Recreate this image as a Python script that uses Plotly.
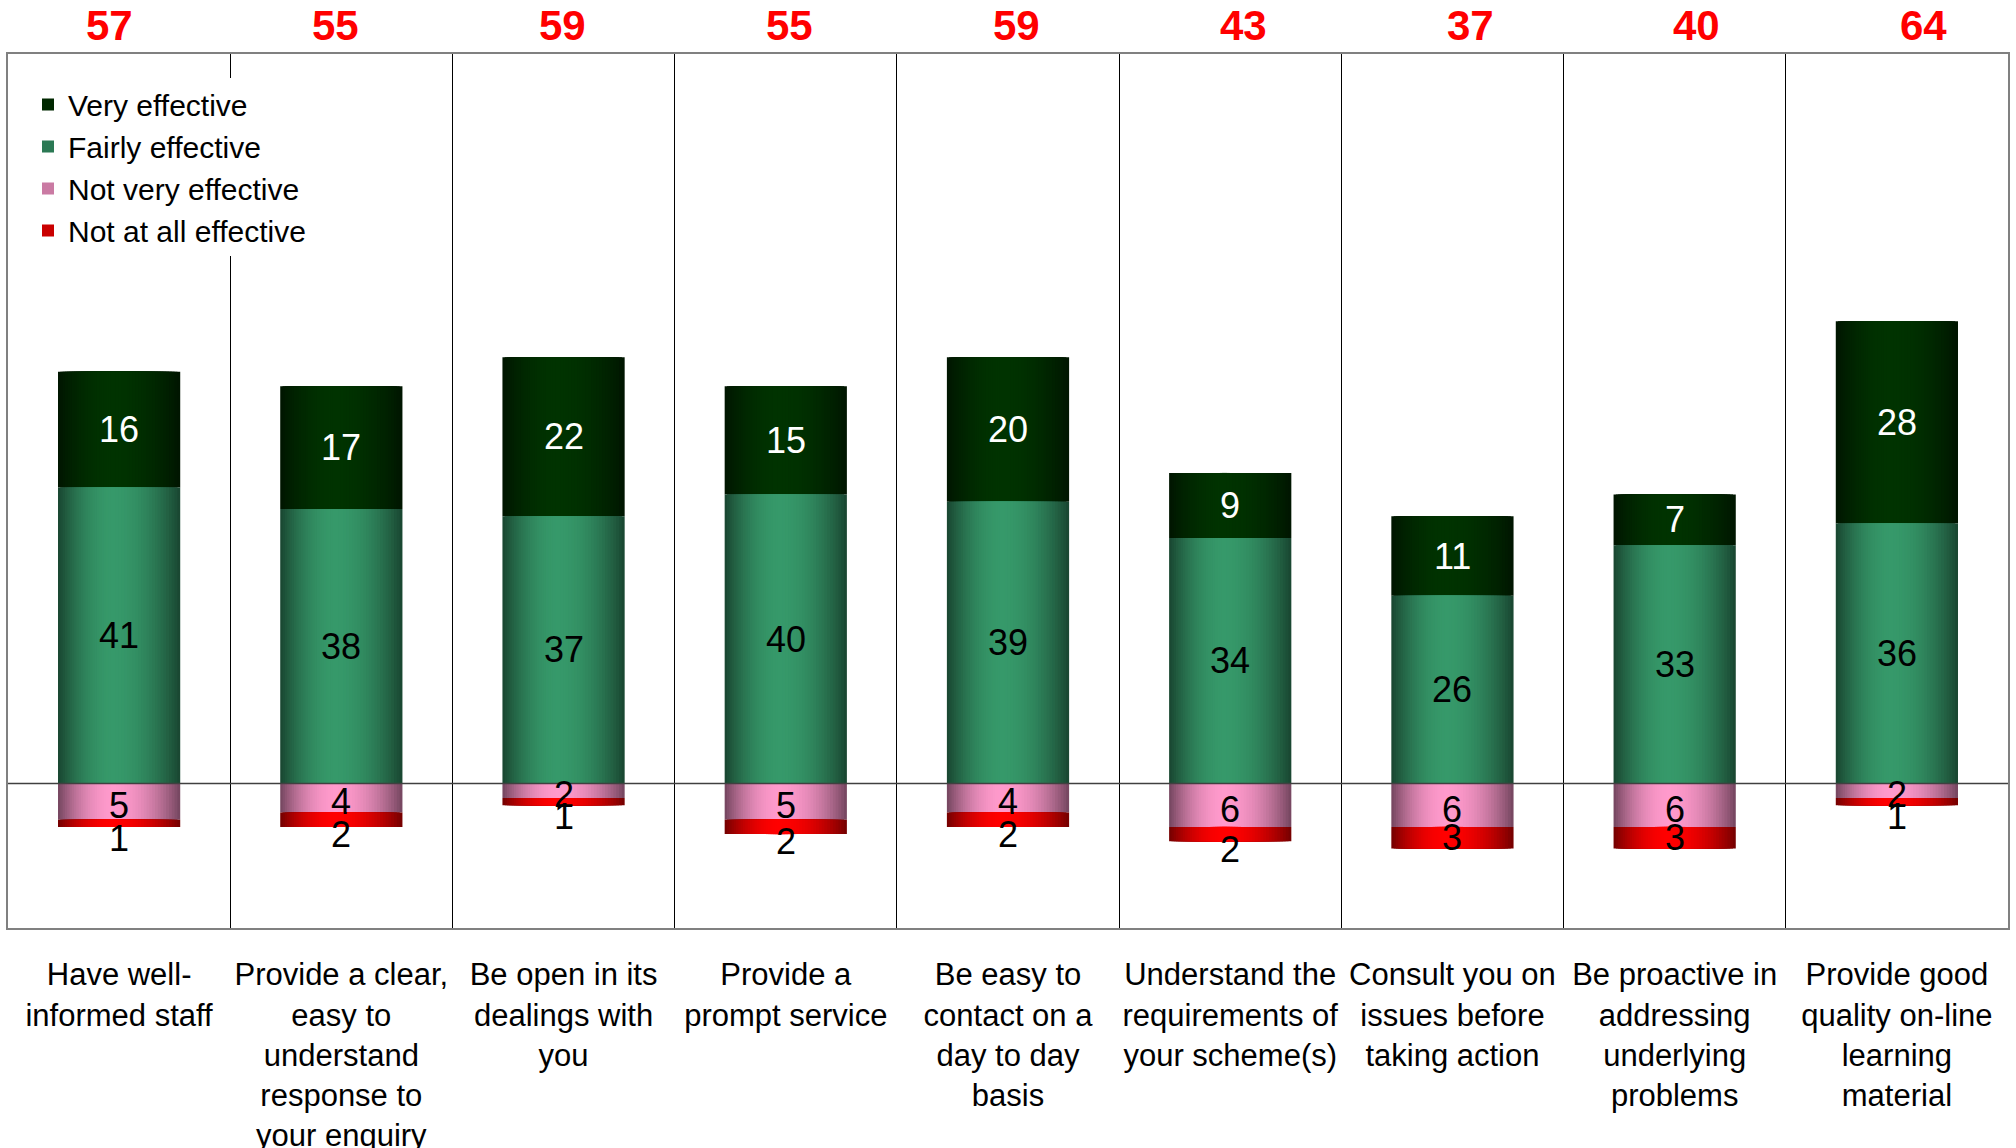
import plotly.graph_objects as go

# ---- data -------------------------------------------------------------
categories = [
    "Have well-<br>informed staff",
    "Provide a clear,<br>easy to<br>understand<br>response to<br>your enquiry",
    "Be open in its<br>dealings with<br>you",
    "Provide a<br>prompt service",
    "Be easy to<br>contact on a<br>day to day<br>basis",
    "Understand the<br>requirements of<br>your scheme(s)",
    "Consult you on<br>issues before<br>taking action",
    "Be proactive in<br>addressing<br>underlying<br>problems",
    "Provide good<br>quality on-line<br>learning<br>material",
]
very_effective = [16, 17, 22, 15, 20, 9, 11, 7, 28]
fairly_effective = [41, 38, 37, 40, 39, 34, 26, 33, 36]
not_very_effective = [5, 4, 2, 5, 4, 6, 6, 6, 2]
not_at_all_effective = [1, 2, 1, 2, 2, 2, 3, 3, 1]

# total of the two positive answers, printed above each column
effective_totals = [v + f for v, f in zip(very_effective, fairly_effective)]

# ---- style ------------------------------------------------------------
FONT = "Liberation Sans, Arial, sans-serif"
BAR_W = 0.55          # bar width as a share of the category slot
HILITE = 0.45         # where the cylinder highlight sits across the bar
N_LAYERS = 24         # number of stacked strips used to fake the gradient
POWER = 2.0           # shape of the shading fall-off toward the edges


def hex_rgb(h):
    h = h.lstrip("#")
    return tuple(int(h[i:i + 2], 16) for i in (0, 2, 4))


def blend(light, dark, t):
    a, b = hex_rgb(light), hex_rgb(dark)
    return "rgb({},{},{})".format(*[round(x + (y - x) * t) for x, y in zip(a, b)])


series = [
    dict(name="Very effective", base=list(fairly_effective), vals=list(very_effective),
         light="#003300", dark="#001600", rank=1),
    dict(name="Fairly effective", base=[0] * len(categories), vals=list(fairly_effective),
         light="#36996a", dark="#1a4832", rank=2),
    dict(name="Not very effective", base=[0] * len(categories),
         vals=[-v for v in not_very_effective],
         light="#ff9acc", dark="#784862", rank=3),
    dict(name="Not at all effective", base=[-v for v in not_very_effective],
         vals=[-v for v in not_at_all_effective],
         light="#ff0000", dark="#780000", rank=4),
]

fig = go.Figure()
legend_layer = int(N_LAYERS * 0.4)
for s in series:
    for j in range(N_LAYERS):
        f = 1 - j / N_LAYERS                     # relative strip width
        width = f * BAR_W
        offset = -BAR_W / 2 + HILITE * BAR_W * (1 - f)
        fig.add_trace(go.Bar(
            x=categories, y=s["vals"], base=s["base"],
            width=width, offset=offset,
            marker=dict(color=blend(s["light"], s["dark"], f ** POWER), line=dict(width=0)),
            opacity=1,
            name=s["name"], legendgroup=s["name"], legendrank=s["rank"],
            showlegend=(j == legend_layer),
            hoverinfo="skip",
        ))

annotations = []
# values inside the segments
for i, cat in enumerate(categories):
    v, f = very_effective[i], fairly_effective[i]
    nv, na = not_very_effective[i], not_at_all_effective[i]
    annotations.append(dict(x=cat, y=f + v / 2, text=str(v), showarrow=False,
                            font=dict(family=FONT, size=36, color="white")))
    annotations.append(dict(x=cat, y=f / 2, text=str(f), showarrow=False,
                            font=dict(family=FONT, size=36, color="black")))
    annotations.append(dict(x=cat, y=-nv / 2, text=str(nv), showarrow=False, yshift=-4,
                            font=dict(family=FONT, size=36, color="black")))
    annotations.append(dict(x=cat, y=-(nv + na / 2), text=str(na), showarrow=False,
                            yshift=-15 if na < 3 else 0,
                            font=dict(family=FONT, size=36, color="black")))
    # total above the frame
    annotations.append(dict(x=cat, xref="x", y=1, yref="paper", yanchor="middle",
                            yshift=29, xshift=-10 + 4.6 * i,
                            text="<b>%d</b>" % effective_totals[i], showarrow=False,
                            font=dict(family=FONT, size=42, color="#ff0000")))

fig.update_layout(
    width=2016, height=1148,
    margin=dict(l=8, r=8, t=54, b=220, autoexpand=False),
    paper_bgcolor="white", plot_bgcolor="white",
    barmode="overlay",
    font=dict(family=FONT, color="black"),
    annotations=annotations,
    legend=dict(x=0.01, y=0.972, xanchor="left", yanchor="top",
                bgcolor="white", borderwidth=0, tracegroupgap=0,
                font=dict(family=FONT, size=30, color="black")),
    shapes=[dict(type="line", xref="paper", x0=0, x1=1, yref="y", y0=0, y1=0,
                 line=dict(color="#404040", width=1.5), layer="above")],
)
fig.update_xaxes(
    type="category", range=[-0.5, len(categories) - 0.5],
    tickson="boundaries", showgrid=True, gridcolor="#000000", gridwidth=1,
    ticks="", showline=True, mirror=True, linecolor="#808080", linewidth=2,
    tickangle=0, automargin=False, ticklabelstandoff=18,
    tickfont=dict(family=FONT, size=31, color="black"),
)
fig.update_yaxes(
    range=[-20, 101], showticklabels=False, showgrid=False, zeroline=False,
    ticks="", showline=True, mirror=True, linecolor="#808080", linewidth=2,
    automargin=False,
)

fig.write_html("out.html")
